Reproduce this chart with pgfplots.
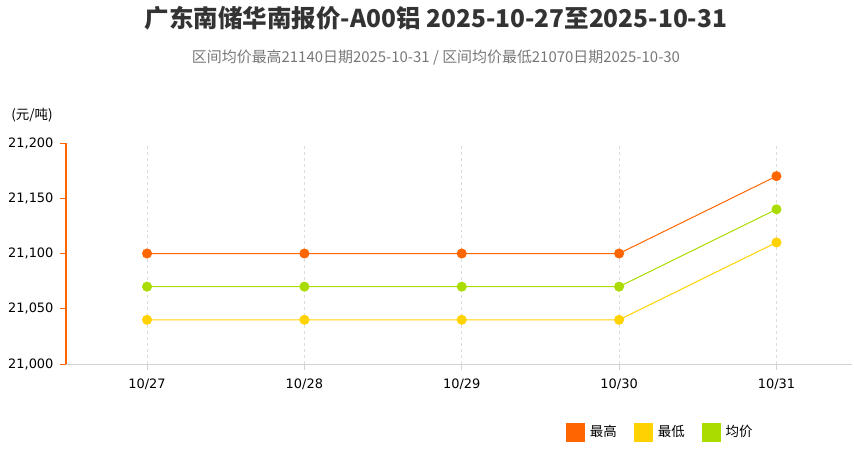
\documentclass[border=0pt]{standalone}
\usepackage{fontspec}
\setmainfont{DejaVu Sans}
\newfontfamily\cjk{Noto Sans CJK SC}
\usepackage{pgfplots}
\pgfplotsset{compat=1.18}
\definecolor{hi}{HTML}{FF6600}
\definecolor{lo}{HTML}{FFD200}
\definecolor{avg}{HTML}{AADC00}
\definecolor{gridc}{HTML}{DDDDDD}
\definecolor{titlec}{HTML}{333333}
\definecolor{subc}{HTML}{777777}
\begin{document}
\begin{tikzpicture}
\useasboundingbox (0bp,0bp) rectangle (854bp,452bp);
\node[font=\cjk\bfseries\fontsize{24.6}{28}\selectfont, text=titlec] at (436bp,434bp)
  {广东南储华南报价-A00铝 2025-10-27至2025-10-31};
\node[font=\cjk\fontsize{15}{17}\selectfont, text=subc] at (436bp,394bp)
  {区间均价最高21140日期2025-10-31 / 区间均价最低21070日期2025-10-30};
\node[font=\cjk\fontsize{13.5}{15}\selectfont, text=black] at (32bp,337bp) {(元/吨)};
\begin{axis}[
    at={(66bp,88bp)}, anchor=south west,
    scale only axis, width=786bp, height=221bp,
    xmin=-0.515, xmax=4.48,
    ymin=21000, ymax=21200,
    axis x line=bottom, axis y line=left,
    x axis line style={-, draw=gray!35, line width=0.8bp},
    y axis line style={-, draw=hi, line width=1.8bp},
    xtick={0,1,2,3,4},
    xticklabels={10/27,10/28,10/29,10/30,10/31},
    ytick={21000,21050,21100,21150,21200},
    scaled y ticks=false,
    /pgf/number format/fixed,
    /pgf/number format/precision=0,
    /pgf/number format/1000 sep={,},
    /pgf/number format/assume math mode=true,
    tick label style={font=\fontsize{13}{15}\selectfont, text=black},
    xtick style={draw=gray!35, line width=0.8bp},
    ytick style={draw=hi, line width=1bp},
    tick align=outside, major tick length=6bp,
    xticklabel style={yshift=-5bp},
    yticklabel style={xshift=-3bp},
    xmajorgrids, grid style={gridc, dashed, line width=0.8bp},
    legend style={at={(0.758,-0.308)}, anchor=center, draw=none, fill=none,
      font=\cjk\fontsize{13.5}{15}\selectfont,
      nodes={inner xsep=5bp},
      /tikz/every even column/.append style={column sep=12bp}},
    legend columns=3,
    legend image code/.code={\fill[#1] (0bp,-9bp) rectangle (18bp,9bp);},
    clip=false,
]
\addplot[color=hi, line width=1bp, mark=*, mark size=4.5bp] coordinates {
    (0,21100) (1,21100) (2,21100) (3,21100) (4,21170)};
\addlegendentry{最高}
\addplot[color=lo, line width=1bp, mark=*, mark size=4.5bp] coordinates {
    (0,21040) (1,21040) (2,21040) (3,21040) (4,21110)};
\addlegendentry{最低}
\addplot[color=avg, line width=1bp, mark=*, mark size=4.5bp] coordinates {
    (0,21070) (1,21070) (2,21070) (3,21070) (4,21140)};
\addlegendentry{均价}
\end{axis}
\end{tikzpicture}
\end{document}
